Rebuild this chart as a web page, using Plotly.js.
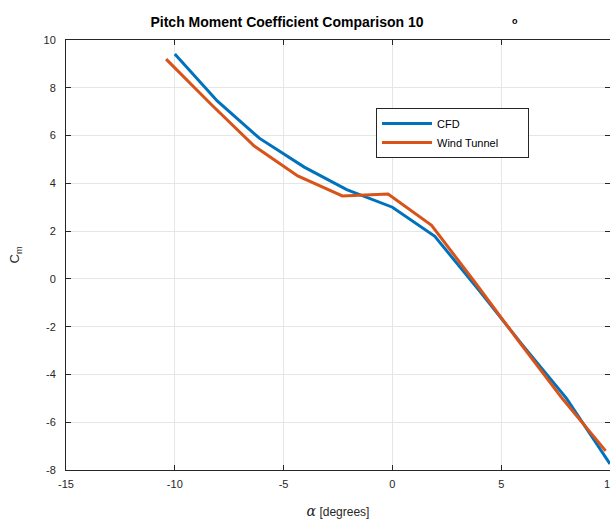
<!DOCTYPE html>
<html>
<head>
<meta charset="utf-8">
<script src="https://cdn.plot.ly/plotly-3.0.1.min.js"></script>
<style>html,body{margin:0;padding:0;background:#fff;}#plot{width:610px;height:525px;}</style>
</head>
<body>
<div id="plot"></div>
<script>
// Data
const cfdAlpha = [-10, -8.05, -6.1, -4.05, -2.1, 0, 1.95, 4, 6, 8, 10];
const cfdCm    = [9.41, 7.45, 5.88, 4.68, 3.74, 3.0, 1.78, -0.5, -2.8, -5.0, -7.75];
const wtAlpha  = [-10.4, -8.3, -6.35, -4.35, -2.3, -0.2, 1.8, 3.8, 5.8, 7.8, 9.8];
const wtCm     = [9.2, 7.28, 5.56, 4.31, 3.47, 3.55, 2.24, -0.15, -2.6, -5.0, -7.2];
const xTicks = [-15, -10, -5, 0, 5, 10];
const yTicks = [-8, -6, -4, -2, 0, 2, 4, 6, 8, 10];
const seriesNames = ['CFD', 'Wind Tunnel'];

const axisColor = '#262626';
const font = 'Liberation Sans, Arial, Helvetica, sans-serif';
const pad = '\u00a0'.repeat(8);

const traces = [
  {x: cfdAlpha, y: cfdCm, name: seriesNames[0] + pad, mode: 'lines',
   line: {color: '#0072BD', width: 3}},
  {x: wtAlpha, y: wtCm, name: seriesNames[1] + pad, mode: 'lines',
   line: {color: '#D95319', width: 3}}
];

const layout = {
  width: 610, height: 525,
  margin: {l: 66, r: 0, t: 40, b: 55},
  paper_bgcolor: '#fff', plot_bgcolor: '#fff',
  font: {family: font, size: 11, color: axisColor},
  title: {text: '<b>Pitch Moment Coefficient Comparison 10</b>',
          font: {family: font, size: 14, color: '#000'},
          x: 287/610, xref: 'container', xanchor: 'center',
          y: 1 - 22/525, yref: 'container', yanchor: 'middle'},
  showlegend: true,
  legend: {x: (376-66)/544, y: 1 - (108-40)/430, xanchor: 'left', yanchor: 'top',
           bgcolor: '#fff', bordercolor: axisColor, borderwidth: 1,
           itemwidth: 50, tracegroupgap: 0,
           font: {family: font, size: 11, color: '#000'}},
  xaxis: {range: [-15, 10], tickvals: xTicks, ticktext: xTicks.map(String),
          showgrid: true, gridcolor: '#e6e6e6', gridwidth: 1,
          zeroline: false, showline: true, linecolor: axisColor, linewidth: 1,
          mirror: 'ticks', ticks: 'inside', ticklen: 5, tickcolor: axisColor,
          ticklabeloverflow: 'allow', ticklabelstandoff: 4,
          tickfont: {family: font, size: 11, color: axisColor},
          title: {text: '<i style="font-family:DejaVu Serif,serif;font-size:14px">α</i> [degrees]',
                  font: {family: font, size: 12, color: axisColor}, standoff: 18}},
  yaxis: {range: [-8, 10], tickvals: yTicks, ticktext: yTicks.map(String),
          showgrid: true, gridcolor: '#e6e6e6', gridwidth: 1,
          zeroline: false, showline: true, linecolor: axisColor, linewidth: 1,
          mirror: 'ticks', ticks: 'inside', ticklen: 5, tickcolor: axisColor,
          ticklabelstandoff: 7,
          tickfont: {family: font, size: 11, color: axisColor},
          title: {text: 'C<sub>m</sub>', font: {family: font, size: 13, color: axisColor}, standoff: 20}},
  annotations: [
    {text: '<b>o</b>', xref: 'paper', yref: 'paper',
     x: (520-66)/544, y: 1 + (40-14)/430, showarrow: false,
     font: {family: font, size: 9, color: '#000'}}
  ]
};

Plotly.newPlot('plot', traces, layout, {displayModeBar: false, staticPlot: true});
</script>
</body>
</html>
